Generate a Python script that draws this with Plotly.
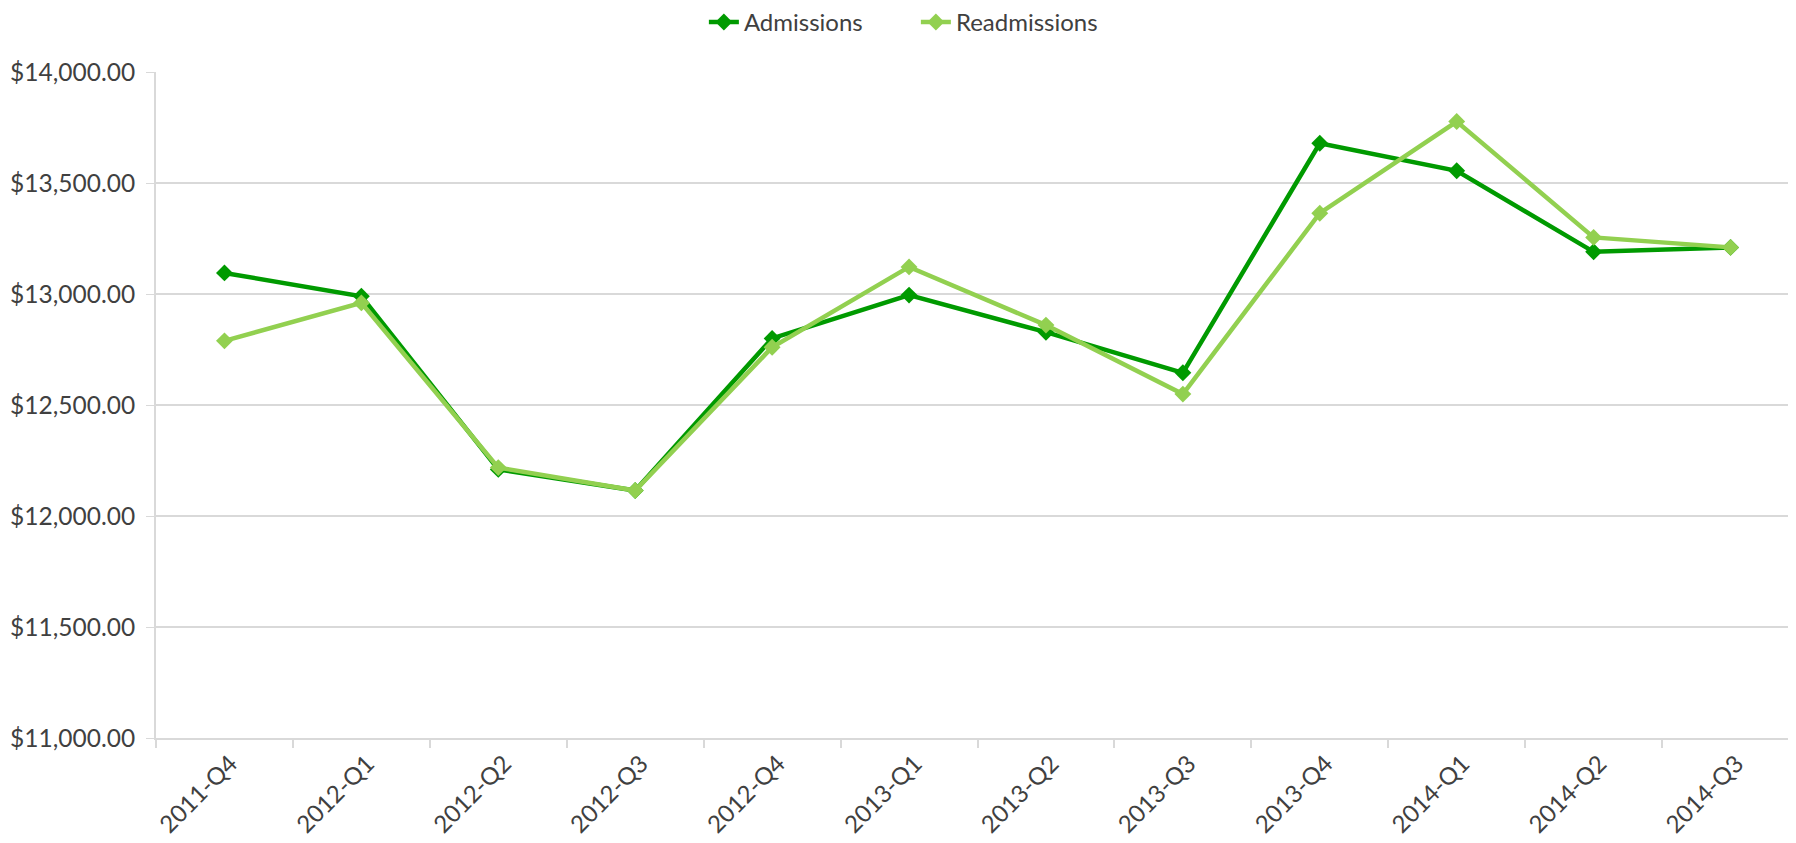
import plotly.graph_objects as go

quarters = ["2011-Q4", "2012-Q1", "2012-Q2", "2012-Q3", "2012-Q4", "2013-Q1",
            "2013-Q2", "2013-Q3", "2013-Q4", "2014-Q1", "2014-Q2", "2014-Q3"]
admissions = [13095, 12990, 12210, 12115, 12800, 12995, 12828, 12645, 13679, 13555, 13190, 13210]
readmissions = [12789, 12960, 12218, 12115, 12760, 13122, 12860, 12549, 13364, 13777, 13255, 13210]

FONT = "Lato"
GRID = "#d9d9d9"
TXT = "#404040"

fig = go.Figure()
fig.add_trace(go.Scatter(
    x=quarters, y=admissions, name="Admissions", mode="lines+markers",
    line=dict(color="#009a00", width=4.5),
    marker=dict(symbol="diamond", size=13, color="#009a00"),
))
fig.add_trace(go.Scatter(
    x=quarters, y=readmissions, name="Readmissions", mode="lines+markers",
    line=dict(color="#92d050", width=4.5),
    marker=dict(symbol="diamond", size=13, color="#92d050"),
))

fig.update_layout(
    width=1796, height=843,
    paper_bgcolor="white", plot_bgcolor="white",
    margin=dict(l=148, r=5, t=64, b=113),
    font=dict(family=FONT, size=22, color=TXT),
    showlegend=True,
    legend=dict(orientation="h", x=0.5055, xanchor="center", xref="container",
                y=0.983, yanchor="middle", yref="container",
                font=dict(size=24, color=TXT), entrywidth=167,
                traceorder="normal"),
    xaxis=dict(
        type="category", range=[-0.5, 11.5], automargin=False,
        showgrid=False, showline=True, linecolor=GRID, linewidth=2,
        ticks="outside", tickson="boundaries", ticklen=8, tickcolor=GRID, tickwidth=1.5,
        tickangle=-45, tickfont=dict(size=24, color=TXT), ticklabelstandoff=0,
        ticklabelshift=6,
    ),
    yaxis=dict(
        range=[11000, 14000], dtick=500, tickformat="$,.2f", automargin=False,
        showgrid=True, gridcolor=GRID, gridwidth=1.5,
        showline=True, linecolor=GRID, linewidth=2,
        ticks="outside", ticklen=8, tickcolor=GRID, ticklabelstandoff=6,
        zeroline=False, tickfont=dict(size=24.5, color=TXT),
    ),
)

fig.write_html("out.html")
